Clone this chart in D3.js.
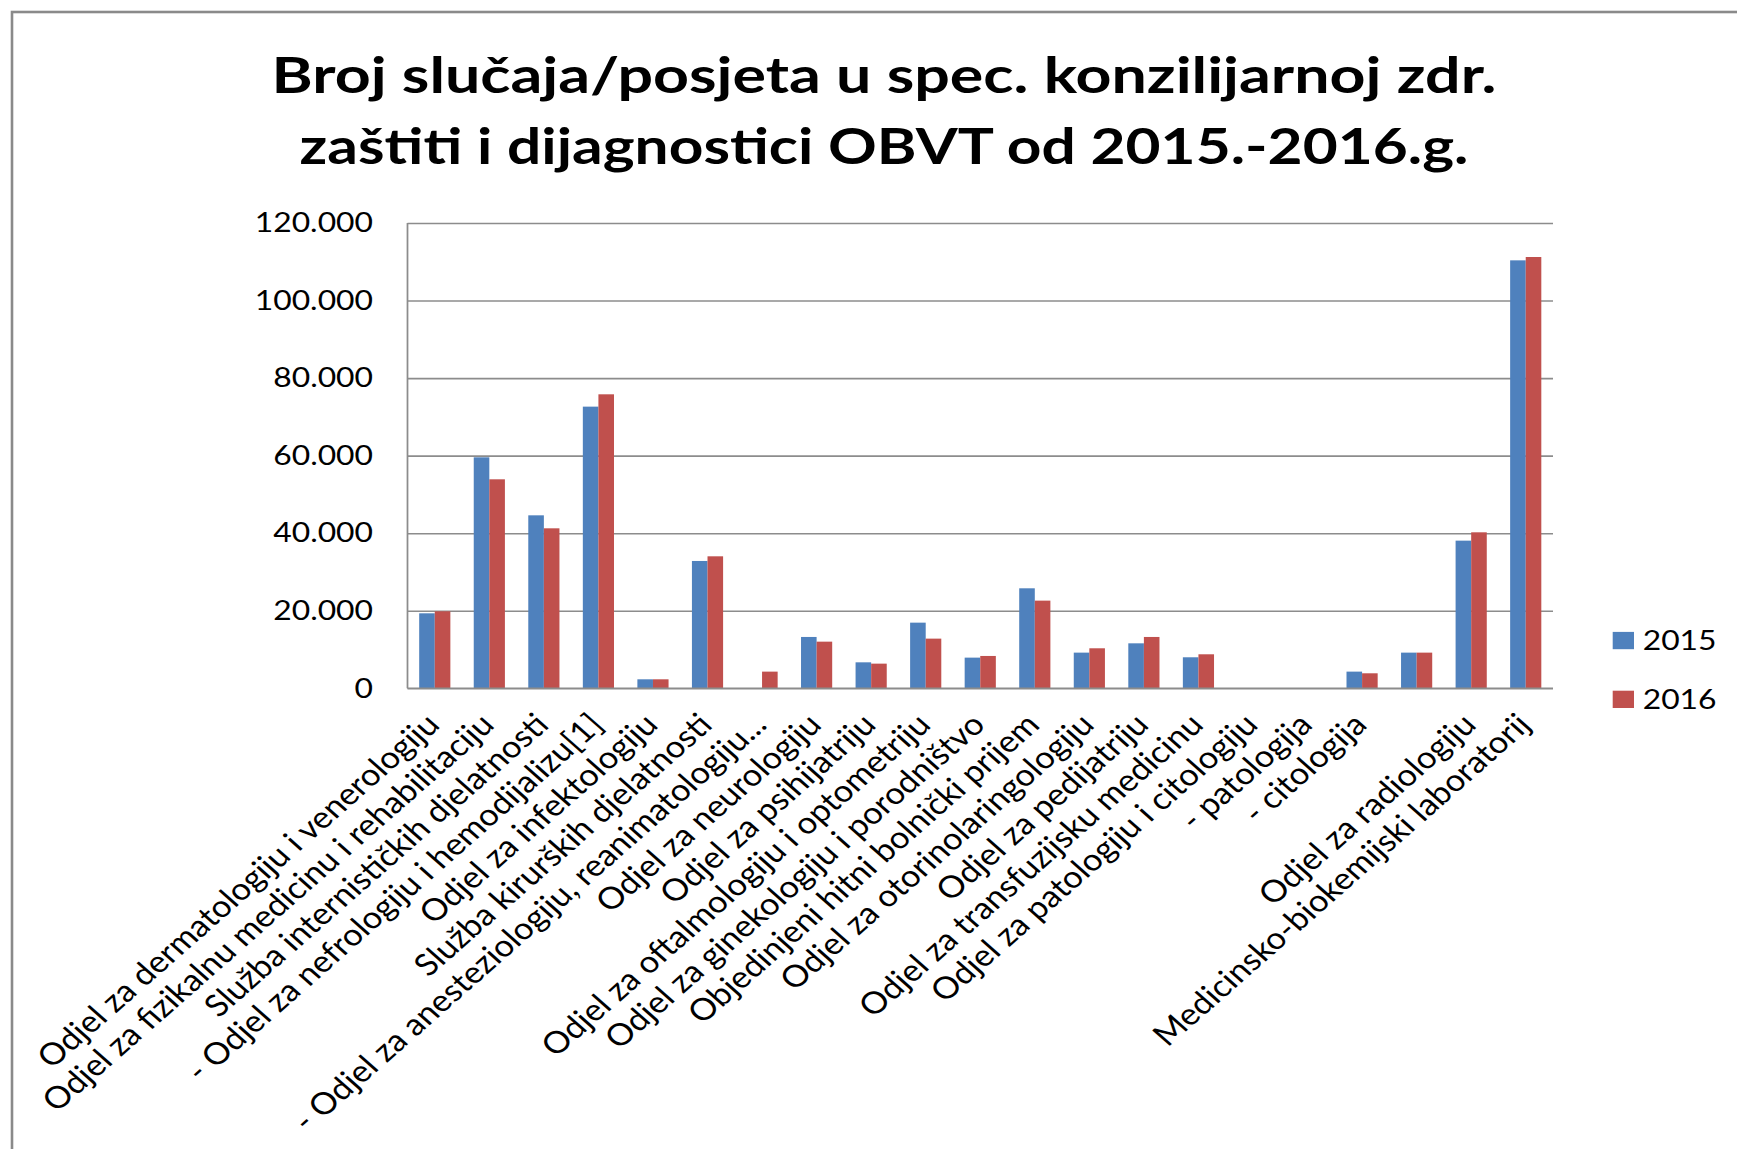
<!DOCTYPE html>
<html>
<head>
<meta charset="utf-8">
<script src="https://cdn.jsdelivr.net/npm/d3@7"></script>
<style>
  html, body { margin: 0; padding: 0; background: #fff; }
  svg { display: block; }
  text { font-family: Lato, "Open Sans", sans-serif; fill: #000; }
</style>
</head>
<body>
<script>
// ---------------- DATA ----------------
const categories = [
  "Odjel za dermatologiju i venerologiju",
  "Odjel za fizikalnu medicinu i rehabilitaciju",
  "Služba internističkih djelatnosti",
  "- Odjel za nefrologiju i hemodijalizu[1]",
  "Odjel za infektologiju",
  "Služba kirurških djelatnosti",
  "- Odjel za anesteziologiju, reanimatologiju...",
  "Odjel za neurologiju",
  "Odjel za psihijatriju",
  "Odjel za oftalmologiju i optometriju",
  "Odjel za ginekologiju i porodništvo",
  "Objedinjeni hitni bolnički prijem",
  "Odjel za otorinolaringologiju",
  "Odjel za pedijatriju",
  "Odjel za transfuzijsku medicinu",
  "Odjel za patologiju i citologiju",
  "- patologija",
  "- citologija",
  "",
  "Odjel za radiologiju",
  "Medicinsko-biokemijski laboratorij"
];
const seriesNames = ["2015", "2016"];
const values2015 = [19340, 59570, 44610, 72640, 2320, 32840, 0, 13240, 6700, 16930, 7910,
                    25790, 9200, 11600, 8000, 0, 0, 4300, 9200, 38080, 110370];
const values2016 = [19860, 53900, 41260, 75820, 2320, 34040, 4300, 12030, 6360, 12810, 8340,
                    22610, 10320, 13240, 8770, 0, 0, 3870, 9200, 40230, 111230];
const yTickValues = [0, 20000, 40000, 60000, 80000, 100000, 120000];
const yTickLabels = ["0", "20.000", "40.000", "60.000", "80.000", "100.000", "120.000"];
const titleLines = [
  "Broj slučaja/posjeta u spec. konzilijarnoj zdr.",
  "zaštiti i dijagnostici OBVT od 2015.-2016.g."
];
const seriesColors = ["#4F81BD", "#C0504D"];

// ---------------- LAYOUT ----------------
const W = 1737, H = 1149;
const K = 1.17;   // horizontal stretch of the original picture
const KL = 1.135; // stretch seen on the rotated category labels
const plotLeft = 407.5 / K, plotRight = 1553 / K, plotTop = 223, plotBottom = 688.3;

const svg = d3.select("body").append("svg").attr("width", W).attr("height", H);
svg.append("rect").attr("width", W).attr("height", H).attr("fill", "#fff");

// chart frame
svg.append("rect")
  .attr("x", 12).attr("y", 12).attr("width", 2000).attr("height", 2000)
  .attr("fill", "none").attr("stroke", "#8a8a8a").attr("stroke-width", 2.6);

const g = svg.append("g").attr("transform", `scale(${K},1)`);

const series = [values2015, values2016];

const x = d3.scaleBand()
  .domain(d3.range(categories.length))
  .range([plotLeft, plotRight])
  .paddingInner(1.5 / 3.5)
  .paddingOuter(0.75 / 3.5);
const xs = d3.scaleBand().domain(seriesNames).range([0, x.bandwidth()]);
const y = d3.scaleLinear().domain([0, 120000]).range([plotBottom, plotTop]);

// y axis with gridlines
const yAxis = g.append("g")
  .attr("transform", `translate(${plotLeft},0)`)
  .call(d3.axisLeft(y)
    .tickValues(yTickValues)
    .tickSize(-(plotRight - plotLeft))
    .tickPadding(29.5)
    .tickFormat((d, i) => yTickLabels[i]));
yAxis.select(".domain").remove();
yAxis.selectAll(".tick line").attr("stroke", "#8c8c8c").attr("stroke-width", 1.6);
yAxis.selectAll(".tick text")
  .attr("font-family", "Lato, 'Open Sans', sans-serif")
  .attr("font-size", 27.2)
  .attr("fill", "#111");

// left axis line
g.append("line")
  .attr("x1", plotLeft).attr("x2", plotLeft)
  .attr("y1", y(120000)).attr("y2", y(0))
  .attr("stroke", "#8c8c8c").attr("stroke-width", 1.5);

// bars
const groups = g.append("g").selectAll("g")
  .data(categories.map((c, i) => i))
  .join("g")
  .attr("transform", i => `translate(${x(i)},0)`);
groups.selectAll("rect")
  .data(i => seriesNames.map((s, k) => ({ s, k, v: series[k][i] })))
  .join("rect")
  .attr("x", d => xs(d.s))
  .attr("width", xs.bandwidth())
  .attr("y", d => y(d.v))
  .attr("height", d => y(0) - y(d.v))
  .attr("fill", d => seriesColors[d.k]);

// redraw x axis line on top
g.append("line")
  .attr("x1", plotLeft).attr("x2", plotRight)
  .attr("y1", y(0)).attr("y2", y(0))
  .attr("stroke", "#8c8c8c").attr("stroke-width", 1.6);

// category labels (drawn in page coordinates, with their own stretch)
svg.append("g").selectAll("text")
  .data(categories)
  .join("text")
  .attr("transform", (d, i) =>
    `translate(${K * (x(i) + x.bandwidth() / 2) - 2},719) scale(${KL},1) rotate(-45)`)
  .attr("text-anchor", "end")
  .attr("dy", "0.35em")
  .attr("font-size", 30.4)
  .attr("fill", "#111")
  .text(d => d);

// title
const titleWidths = [1047, 999];
const titleY = [93.5, 164];
g.append("g").selectAll("text")
  .data(titleLines)
  .join("text")
  .attr("x", 884 / K)
  .attr("y", (d, i) => titleY[i])
  .attr("text-anchor", "middle")
  .attr("font-weight", "bold")
  .attr("font-size", 50)
  .attr("textLength", (d, i) => titleWidths[i])
  .attr("lengthAdjust", "spacingAndGlyphs")
  .text(d => d);

// legend
const legendY = [640.5, 699.3];
const lg = g.append("g").selectAll("g")
  .data(seriesNames)
  .join("g")
  .attr("transform", (d, i) => `translate(${1612.7 / K},${legendY[i]})`);
lg.append("rect")
  .attr("x", 0).attr("y", -8.6)
  .attr("width", 21.3 / K).attr("height", 17.3)
  .attr("fill", (d, i) => seriesColors[i]);
lg.append("text")
  .attr("x", 30 / K)
  .attr("y", 0)
  .attr("dy", "0.36em")
  .attr("font-size", 27.2)
  .attr("fill", "#111")
  .text(d => d);
</script>
</body>
</html>
